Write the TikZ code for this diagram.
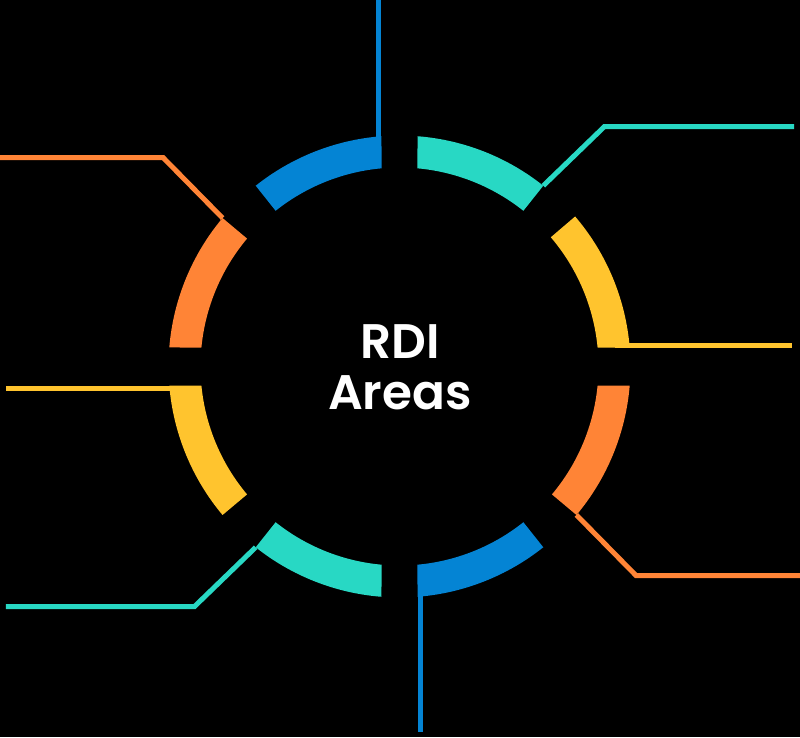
\documentclass[tikz,border=0pt]{standalone}
\usepackage{fontspec}
\usepackage{xcolor}
\newfontfamily\titlefont{Poppins SemiBold}
\usetikzlibrary{positioning, calc}
\definecolor{rblue}{HTML}{0484D4}
\definecolor{rteal}{HTML}{28D8C4}
\definecolor{ryellow}{HTML}{FFC42E}
\definecolor{rorange}{HTML}{FF8436}

\tikzset{
  lead/.style={line width=5pt},
  titletext/.style={text=white, align=center, font=\titlefont\fontsize{48.5}{51}\selectfont}
}

\begin{document}
\begin{tikzpicture}[x=1pt, y=1pt]
    \def\Ro{231}
    \def\Ri{199}
    \useasboundingbox (-399.5,-370.5) rectangle (400.5,366.5);
    \fill[black] (-399.5,-370.5) rectangle (400.5,366.5);

    % ring segments: colour / outer start / outer end / inner start / inner end
    \foreach \col/\os/\oe/\is/\ie in {ryellow/4.72/40.5/5.48/40.5,
                                      rteal/51.5/85.53/51.5/84.81,
                                      rblue/94.47/128.5/95.19/128.5,
                                      rorange/140/175.28/140/174.52,
                                      ryellow/184.72/220/185.48/220,
                                      rteal/231.5/265.53/231.5/264.81,
                                      rblue/274.47/308.5/275.19/308.5,
                                      rorange/320/355.28/320/354.52} {
      \fill[\col] (\os:\Ro) arc[start angle=\os, end angle=\oe, radius=\Ro]
        -- (\ie:\Ri) arc[start angle=\ie, end angle=\is, radius=\Ri] -- cycle;
    }

    \node[titletext] (title) at (0.5,-0.5) {RDI\\Areas};

    % leader lines
    \coordinate (blueA) at (-20.5,215);
    \coordinate (blueAend) at (-20.5,366.5);
    \coordinate (tealA) at (51.5:\Ro);
    \coordinate (tealAbend) at (205,240);
    \coordinate (tealAend) at (394.5,240);
    \coordinate (yellowA) at (215,21.5);
    \coordinate (yellowAend) at (392.5,21.5);
    \coordinate (orangeA) at (320:\Ro);
    \coordinate (orangeAbend) at (236.5,-209);
    \coordinate (orangeAend) at (400.5,-209);
    \coordinate (blueB) at (20.5,-215);
    \coordinate (blueBend) at (20.5,-365.5);
    \coordinate (tealB) at (231.5:\Ro);
    \coordinate (tealBbend) at (-205,-240);
    \coordinate (tealBend) at (-393.5,-240);
    \coordinate (yellowB) at (-215,-21.5);
    \coordinate (yellowBend) at (-393.5,-21.5);
    \coordinate (orangeB) at (140:\Ro);
    \coordinate (orangeBbend) at (-236.5,209);
    \coordinate (orangeBend) at (-399.5,209);

    \draw[lead, rblue] (blueA) -- (blueAend);
    \draw[lead, rteal] (tealA) -- (tealAbend) -- (tealAend);
    \draw[lead, ryellow] (yellowA) -- (yellowAend);
    \draw[lead, rorange] (orangeA) -- (orangeAbend) -- (orangeAend);
    \draw[lead, rblue] (blueB) -- (blueBend);
    \draw[lead, rteal] (tealB) -- (tealBbend) -- (tealBend);
    \draw[lead, ryellow] (yellowB) -- (yellowBend);
    \draw[lead, rorange] (orangeB) -- (orangeBbend) -- (orangeBend);
\end{tikzpicture}
\end{document}
